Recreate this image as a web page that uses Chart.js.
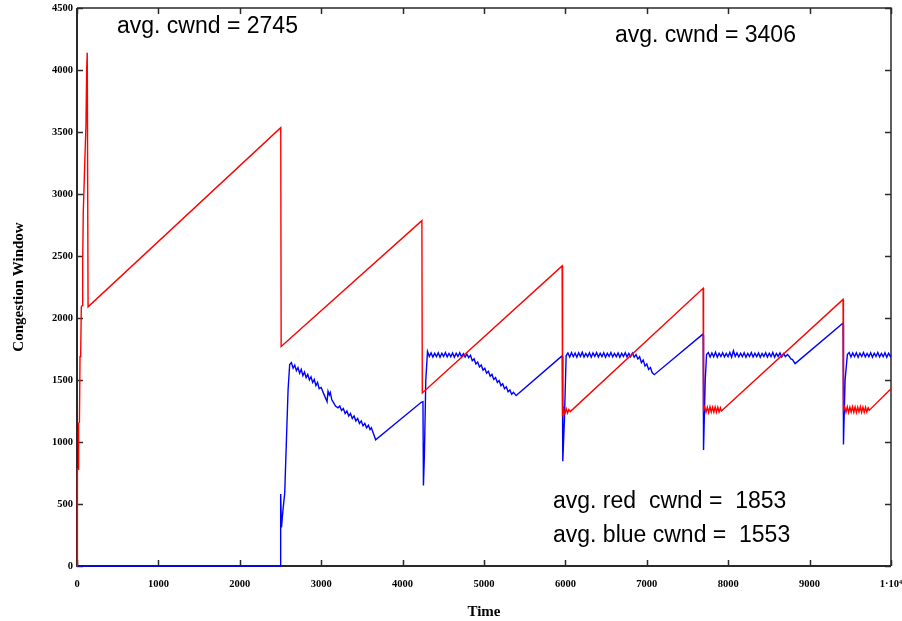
<!DOCTYPE html>
<html>
<head>
<meta charset="utf-8">
<script src="https://cdn.jsdelivr.net/npm/chart.js@4/dist/chart.umd.min.js"></script>
<style>
  html, body { margin: 0; padding: 0; background: #ffffff; }
  #wrap { width: 902px; height: 621px; }
</style>
</head>
<body>
<div id="wrap"><canvas id="c" width="902" height="621"></canvas></div>
<script>
// ---- data (time, congestion window) ----
const redSeries = [
  [0,0],[4,260],[6,780],[14,780],[20,1150],[30,1160],[37,1690],[45,1700],[53,2090],[62,2100],
  [70,2470],[77,2850],[94,3220],[110,3550],[119,4010],[126,4140],[131,4140],[136,2090],
  [2503,3535],[2508,1770],
  [4237,2785],[4242,1395],
  [5960,2420],[5965,1205],
  [5978,1270],[5994,1230],[6010,1268],[6026,1234],[6042,1262],[6060,1245],
  [7692,2240],[7697,1255],
  [7712,1282],[7728,1240],[7744,1280],[7760,1238],[7776,1284],[7792,1242],[7808,1280],[7824,1240],
  [7840,1283],[7856,1240],[7872,1280],[7888,1242],[7904,1276],[7916,1250],
  [9411,2150],[9416,1255],
  [9431,1282],[9447,1240],[9463,1284],[9479,1238],[9495,1280],[9511,1242],[9527,1284],[9543,1240],
  [9559,1282],[9575,1238],[9591,1280],[9607,1242],[9623,1284],[9639,1240],[9655,1282],[9671,1240],
  [9687,1280],[9703,1242],[9719,1276],[9732,1255],
  [10000,1430]
];

const blueSeries = [
  [0,0],[2498,0],[2502,580],[2512,310],[2530,450],[2552,590],[2573,1020],[2593,1420],[2613,1625],[2634,1640],
  [2655,1595],[2675,1620],[2695,1575],[2715,1600],[2735,1555],[2755,1585],[2775,1535],[2795,1565],
  [2815,1520],[2835,1545],[2855,1500],[2875,1525],[2895,1480],[2915,1505],[2935,1455],[2955,1480],
  [2975,1430],[3000,1440],[3030,1390],[3050,1360],[3072,1325],[3084,1410],[3100,1380],[3112,1400],
  [3130,1340],[3150,1320],[3175,1290],[3206,1276],
  [3228,1290],[3250,1255],[3272,1270],[3294,1230],[3316,1250],[3338,1210],[3360,1230],[3382,1190],
  [3404,1210],[3426,1170],[3448,1190],[3470,1150],[3492,1170],[3514,1130],[3536,1150],[3558,1115],
  [3580,1135],[3600,1100],[3616,1115],[3669,1018],
  [4229,1320],[4250,1325],[4256,650],[4268,900],[4285,1500],[4306,1730],
  [4328,1690],[4350,1718],[4372,1685],[4394,1715],[4416,1688],[4438,1720],[4460,1684],[4482,1716],
  [4504,1690],[4526,1722],[4548,1686],[4570,1714],[4592,1688],[4614,1718],[4636,1684],[4658,1716],
  [4680,1690],[4702,1720],[4724,1686],[4746,1712],[4768,1684],[4790,1708],[4812,1680],[4834,1700],
  [4856,1655],[4878,1670],[4900,1630],[4922,1645],[4944,1605],[4966,1620],[4988,1580],[5010,1595],
  [5032,1555],[5054,1570],[5076,1530],[5098,1545],[5120,1505],[5142,1520],[5164,1480],[5186,1495],
  [5208,1455],[5230,1470],[5252,1430],[5274,1445],[5296,1405],[5318,1420],[5340,1385],[5362,1400],
  [5395,1374],
  [5955,1692],[5962,1690],[5968,845],[5988,1180],[6009,1695],
  [6031,1718],[6053,1686],[6075,1722],[6097,1688],[6119,1716],[6141,1684],[6163,1720],[6185,1690],
  [6207,1724],[6229,1686],[6251,1714],[6273,1688],[6295,1720],[6317,1684],[6339,1718],[6361,1690],
  [6383,1722],[6405,1686],[6427,1716],[6449,1688],[6471,1720],[6493,1684],[6515,1716],[6537,1690],
  [6559,1722],[6581,1686],[6603,1714],[6625,1688],[6647,1718],[6669,1684],[6691,1716],[6713,1690],
  [6735,1720],[6757,1686],[6779,1714],[6801,1688],[6823,1716],[6845,1684],[6868,1705],
  [6890,1670],[6912,1688],[6934,1640],[6956,1660],[6978,1612],[7000,1630],[7022,1585],[7044,1600],
  [7066,1560],[7092,1543],
  [7685,1868],[7693,1860],[7697,935],[7718,1500],[7734,1705],
  [7756,1722],[7778,1686],[7800,1718],[7822,1688],[7844,1724],[7866,1684],[7888,1716],[7910,1690],
  [7932,1720],[7954,1686],[7976,1714],[7998,1688],[8020,1722],[8042,1684],[8064,1736],[8086,1690],
  [8108,1718],[8130,1686],[8152,1716],[8174,1688],[8196,1720],[8218,1684],[8240,1714],[8262,1690],
  [8284,1722],[8306,1686],[8328,1716],[8350,1688],[8372,1718],[8394,1684],[8416,1714],[8438,1690],
  [8460,1720],[8482,1686],[8504,1716],[8526,1688],[8548,1722],[8570,1684],[8592,1714],[8614,1690],
  [8636,1718],[8658,1686],[8680,1712],[8702,1688],[8728,1705],
  [8750,1690],[8770,1670],[8790,1665],[8822,1632],
  [9405,1955],[9412,1950],[9416,980],[9436,1500],[9464,1705],
  [9486,1722],[9508,1686],[9530,1718],[9552,1688],[9574,1720],[9596,1684],[9618,1716],[9640,1690],
  [9662,1722],[9684,1686],[9706,1714],[9728,1688],[9750,1720],[9772,1684],[9794,1716],[9816,1690],
  [9838,1722],[9860,1686],[9882,1714],[9904,1688],[9926,1720],[9948,1684],[9970,1716],[9992,1690],
  [10000,1700]
];

const xTicks = [0,1000,2000,3000,4000,5000,6000,7000,8000,9000,10000];
const xTickLabels = ['0','1000','2000','3000','4000','5000','6000','7000','8000','9000','1\u00b710\u2074'];
const yTicks = [0,500,1000,1500,2000,2500,3000,3500,4000,4500];
const yTickLabels = ['0','500','1000','1500','2000','2500','3000','3500','4000','4500'];

const xTitle = 'Time';
const yTitle = 'Congestion Window';
const noteTexts = ['avg. cwnd = 2745', 'avg. cwnd = 3406', 'avg. red  cwnd =  1853', 'avg. blue cwnd =  1553'];

// ---- drawing ----
const tickFont = { family: '"Liberation Serif", "Times New Roman", serif', size: 10.5, weight: 'bold' };
const titleFont = { family: '"Liberation Serif", "Times New Roman", serif', size: 15, weight: 'bold' };

const framePlugin = {
  id: 'frame',
  beforeDatasetsDraw(chart) {
    const { ctx, chartArea: a, scales } = chart;
    ctx.save();
    ctx.strokeStyle = '#2a2a2a';
    ctx.lineCap = 'butt';
    ctx.lineWidth = 1.5;
    const L = 6;
    xTicks.forEach(v => {
      const px = Math.round(scales.x.getPixelForValue(v)) + 0.5;
      ctx.beginPath();
      ctx.moveTo(px, a.bottom); ctx.lineTo(px, a.bottom - L);
      ctx.moveTo(px, a.top); ctx.lineTo(px, a.top + L);
      ctx.stroke();
    });
    yTicks.forEach(v => {
      const py = Math.round(scales.y.getPixelForValue(v)) + 0.5;
      ctx.beginPath();
      ctx.moveTo(a.left, py); ctx.lineTo(a.left + L, py);
      ctx.moveTo(a.right, py); ctx.lineTo(a.right - L, py);
      ctx.stroke();
    });
    ctx.lineWidth = 1.5;
    ctx.beginPath();
    ctx.moveTo(a.left, a.top); ctx.lineTo(a.right, a.top); ctx.lineTo(a.right, a.bottom);
    ctx.stroke();
    ctx.lineWidth = 2;
    ctx.beginPath();
    ctx.moveTo(a.left, a.top); ctx.lineTo(a.left, a.bottom); ctx.lineTo(a.right, a.bottom);
    ctx.stroke();
    ctx.restore();
  },
  afterDraw(chart) {
    const { ctx } = chart;
    ctx.save();
    ctx.fillStyle = '#000';
    ctx.font = '23px "Liberation Sans", Arial, sans-serif';
    ctx.textBaseline = 'alphabetic';
    ctx.textAlign = 'left';
    const pos = [[117, 33], [615, 42], [553, 508], [553, 542]];
    noteTexts.forEach((t, i) => ctx.fillText(t, pos[i][0], pos[i][1]));
    ctx.restore();
  }
};

const toPts = arr => arr.map(p => ({ x: p[0], y: p[1] }));

new Chart(document.getElementById('c'), {
  type: 'line',
  data: {
    datasets: [
      { label: 'red', data: toPts(redSeries), borderColor: '#ff0000', borderWidth: 1.4, pointRadius: 0, tension: 0, fill: false, clip: 3 },
      { label: 'blue', data: toPts(blueSeries), borderColor: '#0000ff', borderWidth: 1.4, pointRadius: 0, tension: 0, fill: false, clip: 3 }
    ]
  },
  options: {
    responsive: false,
    animation: false,
    events: [],
    layout: { padding: { left: 0, top: 8, right: 11, bottom: 0 } },
    plugins: { legend: { display: false }, tooltip: { enabled: false } },
    scales: {
      x: {
        type: 'linear', min: 0, max: 10000,
        grid: { display: false, drawTicks: false },
        border: { display: false },
        afterBuildTicks: s => { s.ticks = xTicks.map(v => ({ value: v })); },
        ticks: {
          padding: 12, color: '#000', font: tickFont, maxRotation: 0, autoSkip: false,
          callback: (v) => xTickLabels[xTicks.indexOf(v)]
        },
        title: { display: true, text: xTitle, color: '#000', font: titleFont, padding: { top: -3, bottom: 0 } },
        afterFit: s => { s.height = 55; s.paddingLeft = 0; s.paddingRight = 0; }
      },
      y: {
        type: 'linear', min: 0, max: 4500,
        grid: { display: false, drawTicks: false },
        border: { display: false },
        afterBuildTicks: s => { s.ticks = yTicks.map(v => ({ value: v })); },
        ticks: {
          padding: 4, color: '#000', font: tickFont, autoSkip: false,
          callback: (v) => yTickLabels[yTicks.indexOf(v)]
        },
        title: { display: true, text: yTitle, color: '#000', font: titleFont, padding: { top: 10, bottom: 0 } },
        afterFit: s => { s.width = 77; s.paddingTop = 0; s.paddingBottom = 0; }
      }
    }
  },
  plugins: [framePlugin]
});
</script>
</body>
</html>
